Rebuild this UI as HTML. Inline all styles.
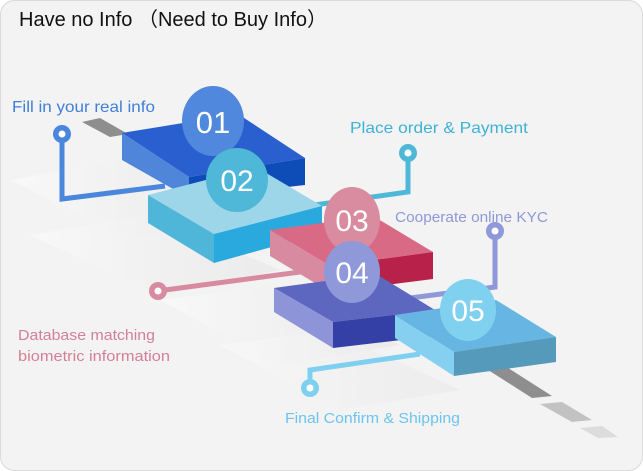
<!DOCTYPE html>
<html><head><meta charset="utf-8"><style>
html,body{margin:0;padding:0;background:#fff}
.c{width:643px;height:471px;position:relative;overflow:hidden}
svg{position:absolute;left:0;top:0}
text{font-family:"Liberation Sans","Noto Sans CJK SC",sans-serif}
</style></head><body><div class="c">
<svg width="643" height="471" viewBox="0 0 643 471">
<defs>
<linearGradient id="sh" x1="0" y1="0" x2="1" y2="0"><stop offset="0" stop-color="#fafafa" stop-opacity="0.8"/><stop offset="1" stop-color="#e6e6e6" stop-opacity="0.6"/></linearGradient>
</defs>
<rect x="0.5" y="0.5" width="642" height="470" rx="14" fill="#f3f3f3" stroke="#dadada"/>
<text x="19" y="26" font-size="20" fill="#111">Have no Info （Need to Buy Info）</text>
<polygon points="10,180 120,160 240,215 130,240" fill="url(#sh)"/>
<polygon points="30,235 150,215 280,270 160,295" fill="url(#sh)"/>
<polygon points="160,300 280,285 400,345 280,365" fill="url(#sh)"/>
<polygon points="220,345 330,330 460,390 340,410" fill="url(#sh)" opacity="0.8"/>
<polygon points="82,122 100,118 128,134 110,137" fill="#8e8e8e"/>
<polygon points="485,368 505,366 552,396 532,398" fill="#8e8e8e"/>
<polygon points="540,404 562,402 592,420 572,422" fill="#c2c2c2"/>
<polygon points="580,428 602,426 618,437 598,438" fill="#dcdcdc"/>
<polyline points="62,140 62,199 165,186" fill="none" stroke="#4a86dc" stroke-width="5"/>
<circle cx="62" cy="134" r="9" fill="#4a86dc"/><circle cx="62" cy="134" r="3.5" fill="#fff"/>
<text x="12" y="112" font-size="16" fill="#3f7fd8" textLength="143" lengthAdjust="spacingAndGlyphs">Fill in your real info</text>
<polygon points="122,133 238,114 305,158 189,177" fill="#2a5fcf"/>
<polygon points="122,133 189,177 189,198 122,160" fill="#4f86d9"/>
<polygon points="189,177 305,158 305,185 189,198" fill="#0e4db8"/>
<ellipse cx="213" cy="121" rx="31" ry="35" fill="#4f88dc"/>
<text x="213" y="133" font-size="31" fill="#fff" text-anchor="middle">01</text>
<polyline points="408,160 408,192 300,207" fill="none" stroke="#4fb8d8" stroke-width="5"/>
<circle cx="408" cy="153" r="9" fill="#4fb8d8"/><circle cx="408" cy="153" r="3.5" fill="#fff"/>
<text x="350" y="133" font-size="16" fill="#3eb2d6" textLength="178" lengthAdjust="spacingAndGlyphs">Place order &amp; Payment</text>
<polygon points="148,195 256,167 322,206 214,234" fill="#9dd6e8"/>
<polygon points="148,195 214,234 214,263 148,223" fill="#4fb6d9"/>
<polygon points="214,234 322,206 322,233 214,263" fill="#29a9de"/>
<ellipse cx="237" cy="180" rx="31" ry="32" fill="#4fb8d8"/>
<text x="237" y="191" font-size="30" fill="#fff" text-anchor="middle">02</text>
<polyline points="165,290 300,272" fill="none" stroke="#d88aa0" stroke-width="5"/>
<circle cx="158" cy="291" r="9" fill="#d88aa0"/><circle cx="158" cy="291" r="3.5" fill="#fff"/>
<text x="18" y="340" font-size="15" fill="#d47f98" textLength="137" lengthAdjust="spacingAndGlyphs">Database matching</text>
<text x="18" y="361" font-size="15" fill="#d47f98" textLength="152" lengthAdjust="spacingAndGlyphs">biometric information</text>
<polygon points="270,230 373,216 433,252 330,266" fill="#d86a85"/>
<polygon points="270,230 330,266 330,292 270,256" fill="#d88aa0"/>
<polygon points="330,266 433,252 433,279 330,292" fill="#b8214a"/>
<ellipse cx="352" cy="220" rx="28" ry="33" fill="#d98ba0"/>
<text x="352" y="231" font-size="30" fill="#fff" text-anchor="middle">03</text>
<text x="395" y="222" font-size="15" fill="#8f98d8" textLength="153" lengthAdjust="spacingAndGlyphs">Cooperate online KYC</text>
<polyline points="495,238 495,287 410,298" fill="none" stroke="#8f98d8" stroke-width="5"/>
<circle cx="495" cy="231" r="9" fill="#8f98d8"/><circle cx="495" cy="231" r="3.5" fill="#fff"/>
<polygon points="274,288 376,274 435,310 333,322" fill="#5d67c0"/>
<polygon points="274,288 333,322 333,348 274,312" fill="#8d95d8"/>
<polygon points="333,322 435,310 435,336 333,348" fill="#3540a6"/>
<ellipse cx="352" cy="272" rx="28" ry="31" fill="#8f98d8"/>
<text x="352" y="283" font-size="30" fill="#fff" text-anchor="middle">04</text>
<polyline points="310,380 310,370 420,354" fill="none" stroke="#7fd0f0" stroke-width="5"/>
<circle cx="310" cy="388" r="9" fill="#7fd0f0"/><circle cx="310" cy="388" r="3.5" fill="#fff"/>
<text x="285" y="423" font-size="15" fill="#6cc5ec" textLength="175" lengthAdjust="spacingAndGlyphs">Final Confirm &amp; Shipping</text>
<polygon points="395,315 496,300 556,337 454,352" fill="#67b5e3"/>
<polygon points="395,315 454,352 454,376 395,338" fill="#85d0f0"/>
<polygon points="454,352 556,337 556,362 454,376" fill="#5599bb"/>
<ellipse cx="468" cy="310" rx="28" ry="31" fill="#80d0f0"/>
<text x="468" y="321" font-size="30" fill="#fff" text-anchor="middle">05</text>
</svg></div></body></html>
